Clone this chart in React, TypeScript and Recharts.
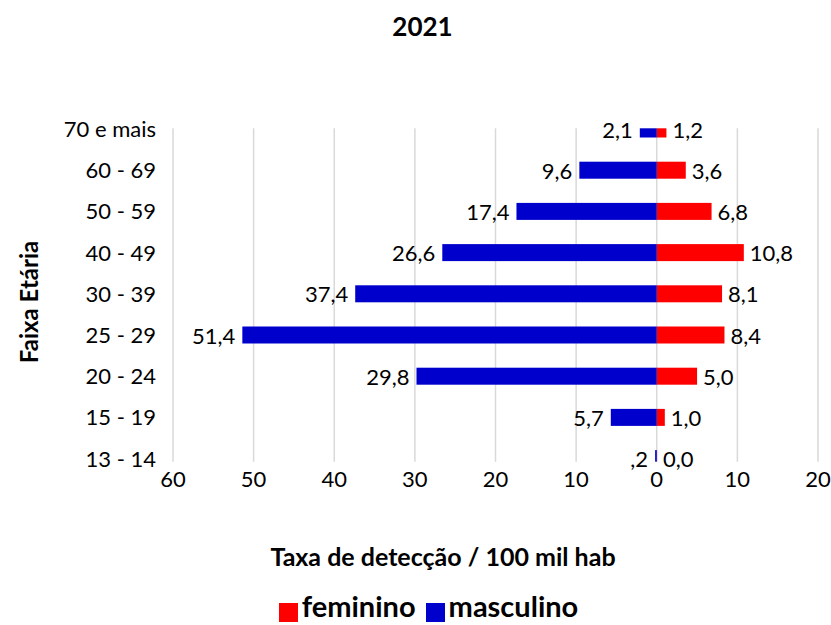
import React from 'react';
import * as Recharts from 'recharts';
import { BarChart, Bar, XAxis, YAxis, CartesianGrid, Legend, LabelList } from 'recharts';

const faixas = ['70 e mais', '60 - 69', '50 - 59', '40 - 49', '30 - 39', '25 - 29', '20 - 24', '15 - 19', '13 - 14'];
const masculino = [2.1, 9.6, 17.4, 26.6, 37.4, 51.4, 29.8, 5.7, 0.2];
const feminino = [1.2, 3.6, 6.8, 10.8, 8.1, 8.4, 5.0, 1.0, 0.04];
const xTicks = [-60, -50, -40, -30, -20, -10, 0, 10, 20];

const data = faixas.map((faixa, i) => ({
  faixa,
  masculino: -masculino[i],
  feminino: feminino[i],
}));

const FONT = 'Lato, "Open Sans", sans-serif';

// excel format on the male side drops the leading zero (",2")
const fmtMasc = (v: number) => {
  const s = Math.abs(v).toFixed(1).replace('.', ',');
  return s.startsWith('0') ? s.slice(1) : s;
};
const fmtFem = (v: number) => v.toFixed(1).replace('.', ',');

const usePlot: () => any = (Recharts as any).usePlotArea ?? (() => undefined);

// bars at the first/last category get cut by the plot area, like excel does
const ClippedRect = (props: any) => {
  const area = usePlot();
  const { x, y, width, height, fill } = props;
  const x0 = Math.min(x, x + width);
  let y0 = Math.min(y, y + height);
  let y1 = y0 + Math.abs(height);
  if (area) {
    y0 = Math.max(y0, area.y);
    y1 = Math.min(y1, area.y + area.height);
  }
  return <rect x={x0} y={y0} width={Math.abs(width)} height={Math.max(0, y1 - y0)} fill={fill} />;
};

const MascLabel = (props: any) => {
  const { x, y, width, height, value } = props;
  const left = Math.min(x, x + width);
  return (
    <text x={left - 7} y={y + height / 2} textAnchor="end" dominantBaseline="central" fontSize={22} fill="#000">
      {fmtMasc(Number(value))}
    </text>
  );
};

const FemLabel = (props: any) => {
  const { x, y, width, height, value } = props;
  const right = Math.max(x, x + width);
  return (
    <text x={right + 6} y={y + height / 2} textAnchor="start" dominantBaseline="central" fontSize={22} fill="#000">
      {fmtFem(Number(value))}
    </text>
  );
};

export default function App() {
  return (
    <div style={{ position: 'absolute', left: 0, top: 0, width: 831, height: 625, background: '#fff', fontFamily: FONT }}>
      <div style={{ position: 'absolute', top: 10, left: 7, width: 831, textAlign: 'center', fontWeight: 'bold', fontSize: 26 }}>
        2021
      </div>
      <div
        style={{
          position: 'absolute',
          left: 28,
          top: 302,
          transform: 'translate(-50%, -50%) rotate(-90deg)',
          whiteSpace: 'nowrap',
          fontWeight: 'bold',
          fontSize: 24,
        }}
      >
        Faixa Etária
      </div>
      <div style={{ position: 'absolute', top: 541, left: 443, transform: 'translateX(-50%)', whiteSpace: 'nowrap', fontWeight: 'bold', fontSize: 25 }}>
        Taxa de detecção / 100 mil hab
      </div>
      <BarChart
        width={831}
        height={625}
        data={data}
        layout="vertical"
        stackOffset="sign"
        margin={{ top: 128.3, right: 13, bottom: 133.3, left: 0 }}
      >
        <CartesianGrid horizontal={false} stroke="#d9d9d9" strokeWidth={1.5} />
        <XAxis
          type="number"
          domain={[-60, 20]}
          ticks={xTicks}
          interval={0}
          tickFormatter={(v: number) => String(Math.abs(v))}
          axisLine={false}
          tickLine={false}
          tickMargin={4}
          height={30}
          tick={{ fill: '#000', fontSize: 22 }}
        />
        <YAxis
          type="category"
          dataKey="faixa"
          width={173}
          padding={{ top: -19.8, bottom: -17.6 }}
          axisLine={false}
          tickLine={false}
          tickMargin={11}
          interval={0}
          tick={{ fill: '#000', fontSize: 22 }}
        />
        <Legend
          layout="horizontal"
          verticalAlign="middle"
          align="center"
          iconType="square"
          iconSize={19}
          wrapperStyle={{ top: 588, left: 18, width: 831 }}
          formatter={(value: string) => (
            <span style={{ color: '#000', fontWeight: 'bold', fontSize: 29 }}>{value}</span>
          )}
        />
        <Bar dataKey="feminino" name="feminino" stackId="a" fill="#ff0000" barSize={17} shape={<ClippedRect />} isAnimationActive={false}>
          <LabelList dataKey="feminino" content={FemLabel} />
        </Bar>
        <Bar dataKey="masculino" name="masculino" stackId="a" fill="#0000cc" barSize={17} shape={<ClippedRect />} isAnimationActive={false}>
          <LabelList dataKey="masculino" content={MascLabel} />
        </Bar>
      </BarChart>
    </div>
  );
}
